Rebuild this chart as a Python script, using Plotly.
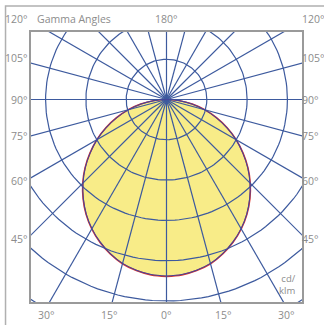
import math
import plotly.graph_objects as go

# ---- data (cd/klm) ----
gamma = [0, 5, 10, 15, 20, 25, 30, 35, 40, 45, 50, 55, 60, 65, 70, 75, 80, 85, 90]
c0_c180 = [439, 437, 431, 422, 408, 391, 371, 348, 322, 294, 264, 232, 200, 166, 132, 98, 65, 32, 0]
c90_c270 = [438, 436, 430, 421, 407, 390, 370, 347, 321, 293, 263, 231, 199, 165, 131, 97, 64, 31, 0]
grid_radii = [100, 200, 300, 400, 500, 600]
grid_angles = list(range(0, 360, 15))
side_ticks = [45, 60, 75, 90, 105]
side_labels = ["45°", "60°", "75°", "90°", "105°"]
bottom_ticks = [-30, -15, 0, 15, 30]
bottom_labels = ["30°", "15°", "0°", "15°", "30°"]

X_HALF = 336.2
Y_TOP = 167.5
Y_BOT = -502.5

GRID = "#3d5a9e"
TXT = "#8c8c8c"
FONT = "Open Sans"
SIDE_NUDGE = {45: -4, 60: -3, 75: 0, 90: 0, 105: 5}


def curve_xy(vals):
    xs, ys = [], []
    for g, r in zip(reversed(gamma), reversed(vals)):
        a = math.radians(g)
        xs.append(-r * math.sin(a))
        ys.append(-r * math.cos(a))
    for g, r in zip(gamma, vals):
        a = math.radians(g)
        xs.append(r * math.sin(a))
        ys.append(-r * math.cos(a))
    return xs, ys


fig = go.Figure()

fx, fy = curve_xy(c0_c180)
fig.add_trace(go.Scatter(x=fx, y=fy, mode="lines", fill="toself",
                         fillcolor="#f8ec88", line=dict(color="#e0342a", width=1.5, shape="spline"),
                         hoverinfo="skip", showlegend=False))

# grid
gx, gy = [], []
for r in grid_radii:
    for i in range(0, 361, 2):
        a = math.radians(i)
        gx.append(r * math.cos(a))
        gy.append(r * math.sin(a))
    gx.append(None)
    gy.append(None)
for ang in grid_angles:
    a = math.radians(ang)
    gx += [0, 800 * math.cos(a), None]
    gy += [0, 800 * math.sin(a), None]
fig.add_trace(go.Scatter(x=gx, y=gy, mode="lines", line=dict(color=GRID, width=1.2),
                         hoverinfo="skip", showlegend=False))

bx, by = curve_xy(c90_c270)
fig.add_trace(go.Scatter(x=bx, y=by, mode="lines", line=dict(color="#44449a", width=1.1, shape="spline"),
                         hoverinfo="skip", showlegend=False))

ann = []
for g, lab in zip(side_ticks, side_labels):
    a = math.radians(g)
    y = -X_HALF * math.cos(a) / math.sin(a)
    ann.append(dict(x=-X_HALF, y=y, xref="x", yref="y", text=lab, showarrow=False,
                    xanchor="right", yanchor="middle", xshift=-1, yshift=SIDE_NUDGE[g]))
    ann.append(dict(x=X_HALF, y=y, xref="x", yref="y", text=lab, showarrow=False, borderpad=0,
                    xanchor="left", yanchor="middle", xshift=-1, yshift=SIDE_NUDGE[g]))
for g, lab in zip(bottom_ticks, bottom_labels):
    x = -Y_BOT * math.tan(math.radians(g))
    ann.append(dict(x=x, y=Y_BOT, xref="x", yref="y", text=lab, showarrow=False,
                    xanchor="center", yanchor="top", yshift=-4,
                    xshift=(-3 if g < 0 else (3 if g > 0 else 0))))
# top row (anchored at the top edge of the plot area)
ann.append(dict(x=-X_HALF, y=Y_TOP, xref="x", yref="y", text="120°", showarrow=False,
                xanchor="right", yanchor="middle", xshift=-1, yshift=13))
ann.append(dict(x=X_HALF, y=Y_TOP, xref="x", yref="y", text="120°", showarrow=False, borderpad=0,
                xanchor="left", yanchor="middle", xshift=-1, yshift=13))
ann.append(dict(x=0, y=Y_TOP, xref="x", yref="y", text="180°", showarrow=False,
                xanchor="center", yanchor="middle", yshift=13))
ann.append(dict(x=-X_HALF, y=Y_TOP, xref="x", yref="y", text="Gamma Angles", showarrow=False,
                xanchor="left", yanchor="middle", xshift=4, yshift=13))
ann.append(dict(x=0.985, y=0.065, xref="paper", yref="paper", text="cd/<br>klm", showarrow=False,
                xanchor="right", yanchor="middle", align="right",
                font=dict(size=9.5, color=TXT, family=FONT)))

fig.update_layout(
    width=324, height=325,
    margin=dict(l=31, r=22, t=32, b=23),
    paper_bgcolor="white", plot_bgcolor="white",
    font=dict(family=FONT, size=10.5, color=TXT),
    annotations=ann,
    shapes=[dict(type="rect", xref="paper", yref="paper", x0=-0.094, y0=-0.3, x1=1.3, y1=1.096,
                 line=dict(color="#b0b0b0", width=1.5), fillcolor="rgba(0,0,0,0)", layer="below")],
    xaxis=dict(range=[-X_HALF, X_HALF], showgrid=False, zeroline=False, showticklabels=False,
               showline=True, mirror=True, linecolor="#9a9a9a", linewidth=1.6, ticks="",
               fixedrange=True),
    yaxis=dict(range=[Y_BOT, Y_TOP], showgrid=False, zeroline=False, showticklabels=False,
               showline=True, mirror=True, linecolor="#9a9a9a", linewidth=1.6, ticks="",
               fixedrange=True),
)

fig.write_html("out.html", config={"displayModeBar": False, "staticPlot": True},
               post_script="document.body.style.margin='0px';")
